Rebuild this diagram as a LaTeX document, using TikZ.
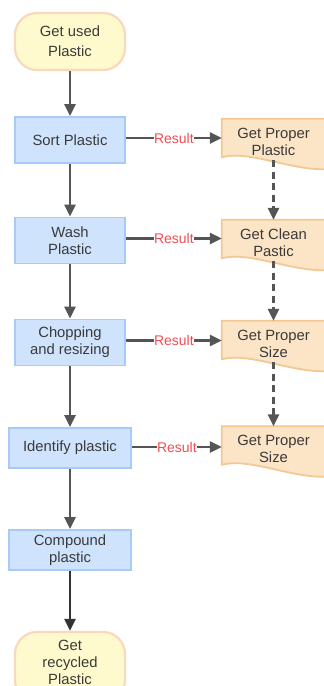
\documentclass[tikz,border=0pt]{standalone}
\usepackage{fontspec}
\setmainfont{Liberation Sans}
\usetikzlibrary{arrows.meta}
\definecolor{txt}{HTML}{3A3A3A}
\definecolor{boxfill}{HTML}{CFE3FD}
\definecolor{boxline}{HTML}{A6CBF6}
\definecolor{docfill}{HTML}{FCE4C6}
\definecolor{docline}{HTML}{F4C893}
\definecolor{termfill}{HTML}{FFFACD}
\definecolor{termline}{HTML}{F9D8BC}
\definecolor{arr}{HTML}{555555}
\definecolor{res}{HTML}{F04E55}
\tikzset{
  every node/.style={text=txt, font=\fontsize{14.8}{17}\selectfont, align=center, inner sep=0pt},
  procbox/.style={draw=boxline, fill=boxfill, line width=1.8pt, minimum width=110pt, minimum height=46pt},
  widebox/.style={draw=boxline, fill=boxfill, line width=1.8pt, minimum width=122pt, minimum height=40pt},
  termbox/.style={draw=termline, fill=termfill, line width=2.2pt, rounded corners=22pt, minimum width=110pt, font=\fontsize{14.8}{20}\selectfont},
  docnode/.style={minimum width=103pt, minimum height=41pt},
  flow/.style={draw=arr, line width=2.4pt, -{Triangle[length=12pt,width=11pt]}},
  dflow/.style={draw=arr, line width=2.4pt, dash pattern=on 7pt off 4.5pt, -{Triangle[length=12pt,width=11pt]}},
  reslabel/.style={fill=white, text=res, font=\fontsize{14}{16}\selectfont, inner sep=0.5pt},
}
\newcommand\docshape[1]{%
  \path[fill=docfill, draw=docline, line width=1.8pt]
    (#1.north west) -- (#1.north east) -- ([yshift=-9pt]#1.south east)
    .. controls ([xshift=-35pt,yshift=-10pt]#1.south east) and ([xshift=28pt,yshift=10pt]#1.south west) ..
    ([yshift=3pt]#1.south west) -- cycle;}
\begin{document}
\begin{tikzpicture}[x=1pt,y=-1pt]
\clip (0,0) rectangle (324,686);
\fill[white] (0,0) rectangle (324,686);

% left column
\node[termbox, minimum height=57pt] (start) at (70,41.5) {Get used\\Plastic};
\node[procbox] (sort) at (70,140) {Sort Plastic};
\node[procbox] (wash) at (70,240.5) {Wash\\Plastic};
\node[procbox] (chop) at (70,342.5) {Chopping\\and resizing};
\node[widebox] (ident) at (70,448) {Identify plastic};
\node[widebox] (comp) at (70,550) {Compound\\plastic};
\node[termbox, minimum height=70pt] (finish) at (70,667) {};
\node at (70,662) {\fontsize{14.8}{19.5}\selectfont Get\\recycled\\Plastic};

% document shapes
\node[docnode] (d1) at (273.5,139.5) {};
\node[docnode] (d2) at (273.5,240.5) {};
\node[docnode] (d3) at (273.5,341.5) {};
\node[docnode] (d4) at (273.5,447) {};
\docshape{d1}\docshape{d2}\docshape{d3}\docshape{d4}
\node at ([yshift=-2pt]d1.center) {Get Proper\\Plastic};
\node at ([yshift=-2pt]d2.center) {Get Clean\\Pastic};
\node at ([yshift=-2pt]d3.center) {Get Proper\\Size};
\node at ([yshift=-2pt]d4.center) {Get Proper\\Size};

% main flow
\draw[flow] (start) -- (sort);
\draw[flow] (sort) -- (wash);
\draw[flow] (wash) -- (chop);
\draw[flow] (chop) -- (ident);
\draw[flow] (ident) -- (comp);
\draw[flow, draw=black!80] (comp) -- (finish);

% result arrows
\draw[flow] ([yshift=2pt]sort.east) -- ([yshift=2pt]sort.east -| d1.west) node[midway, reslabel] {Result};
\draw[flow] ([yshift=2pt]wash.east) -- ([yshift=2pt]wash.east -| d2.west) node[midway, reslabel] {Result};
\draw[flow] ([yshift=2pt]chop.east) -- ([yshift=2pt]chop.east -| d3.west) node[midway, reslabel] {Result};
\draw[flow] ([yshift=1pt]ident.east) -- ([yshift=1pt]ident.east -| d4.west) node[midway, reslabel] {Result};

% dashed links
\draw[dflow] (d1.south) -- (d2.north);
\draw[dflow] (d2.south) -- (d3.north);
\draw[dflow] (d3.south) -- (d4.north);
\end{tikzpicture}
\end{document}
